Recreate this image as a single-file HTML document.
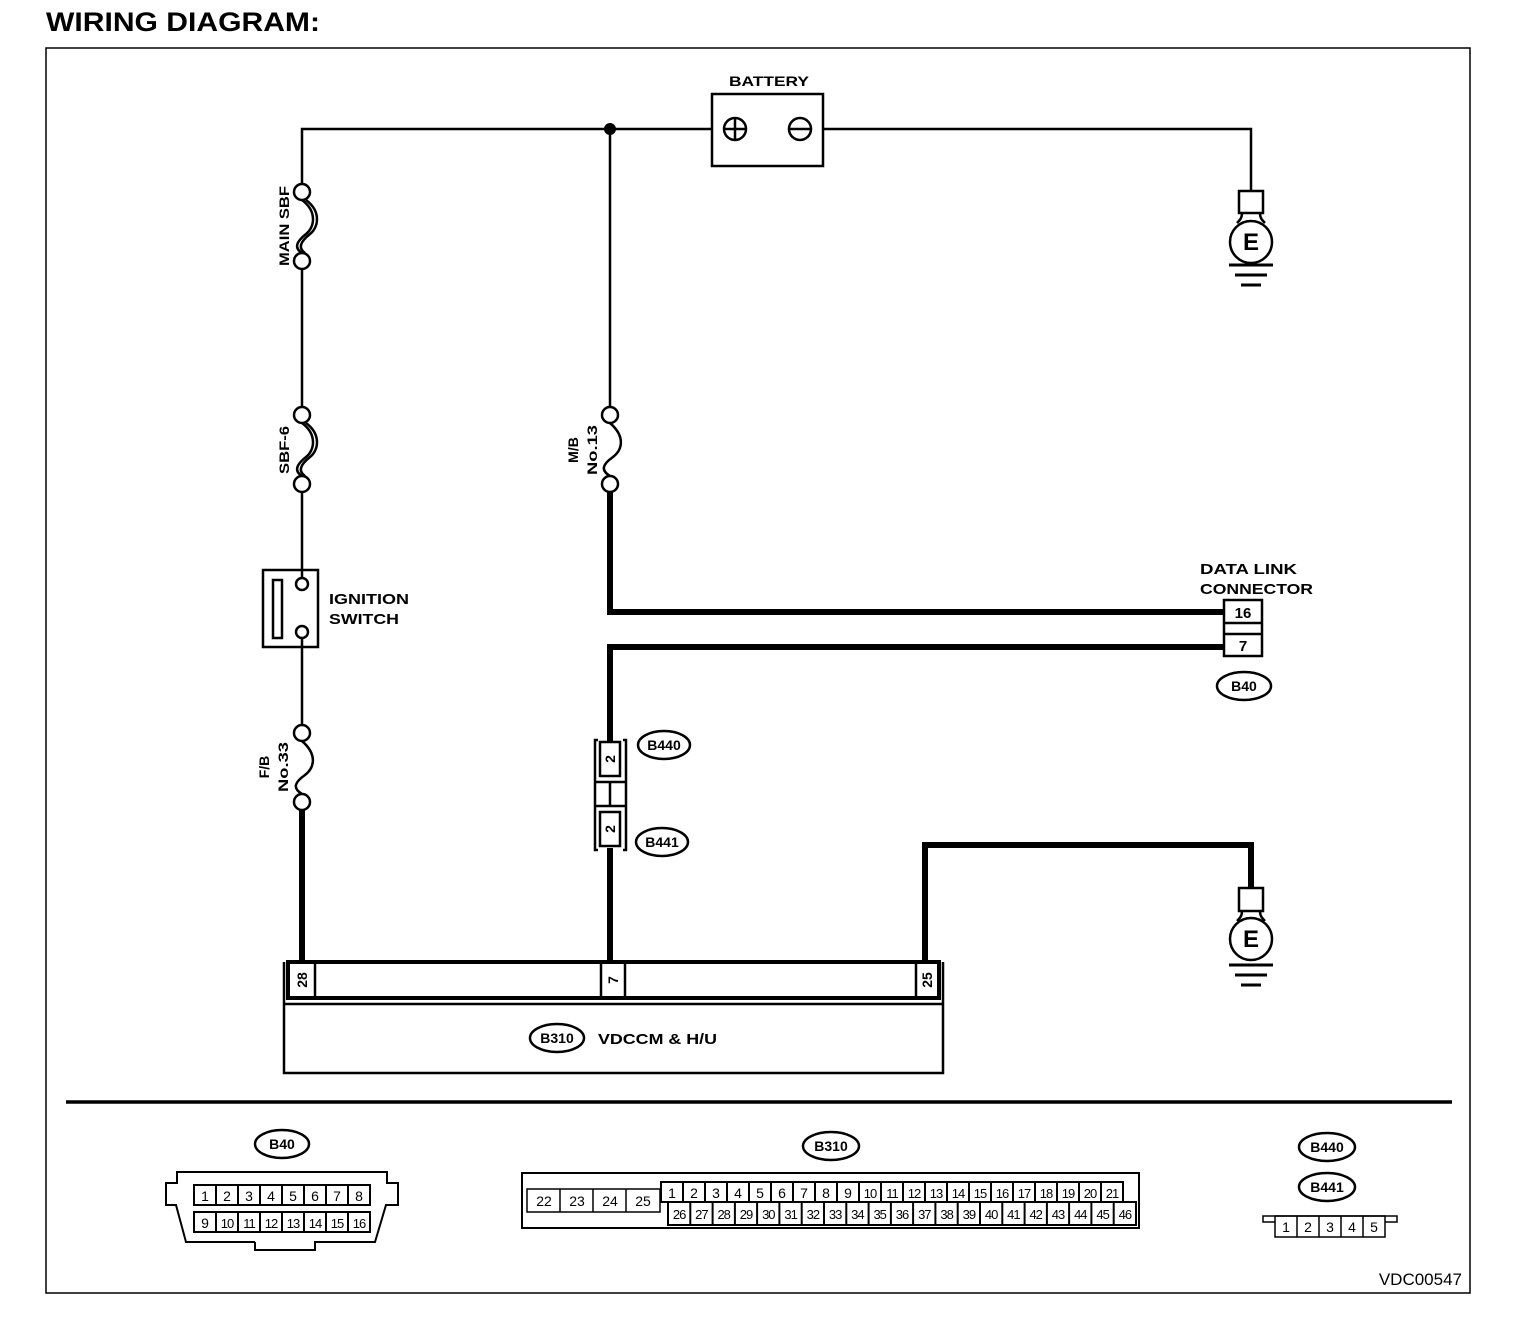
<!DOCTYPE html>
<html><head><meta charset="utf-8"><style>
html,body{margin:0;padding:0;background:#fff}
svg{display:block}
text{font-family:"Liberation Sans",Arial,sans-serif;fill:#000}
.b{font-weight:bold}
.n{font-size:13px;letter-spacing:-1px}
</style></head><body>
<svg width="1536" height="1336" viewBox="0 0 1536 1336" xmlns="http://www.w3.org/2000/svg">
<text x="46" y="31" class="b" font-size="27" textLength="274" lengthAdjust="spacingAndGlyphs">WIRING DIAGRAM:</text>
<rect x="46" y="48" width="1424" height="1245" fill="none" stroke="#000" stroke-width="1.5"/>

<g fill="none" stroke="#000" stroke-width="2.5">
<polyline points="302,184 302,129 712,129"/>
<polyline points="823,129 1251,129 1251,191"/>
<circle cx="735" cy="129" r="11"/><line x1="735" y1="118" x2="735" y2="140"/><line x1="724" y1="129" x2="746" y2="129"/>
<circle cx="800" cy="129" r="11"/><line x1="789" y1="129" x2="811" y2="129"/>
<rect x="712" y="94" width="111" height="72"/>
<circle cx="302" cy="192" r="8"/><circle cx="302" cy="261" r="8"/>
<path d="M302,200 C318,212 314,228 306,234 C296,242 294,248 302,253"/>
<path d="M306,200 C322,212 318,228 310,234 C300,242 298,248 305,253"/>
<line x1="302" y1="269" x2="302" y2="407"/>
<circle cx="302" cy="415" r="8"/><circle cx="302" cy="484" r="8"/>
<path d="M302,423 C318,435 314,451 306,457 C296,465 294,471 302,476"/>
<path d="M306,423 C322,435 318,451 310,457 C300,465 298,471 305,476"/>
<line x1="302" y1="492" x2="302" y2="578"/>
<rect x="263" y="570" width="55" height="77"/>
<rect x="273" y="580" width="9" height="58"/>
<circle cx="302" cy="584" r="6"/><circle cx="302" cy="632" r="6"/>
<line x1="302" y1="638" x2="302" y2="725"/>
<circle cx="302" cy="733" r="8"/><circle cx="302" cy="802" r="8"/>
<path d="M302,741 C318,755 314,768 305,775 C295,782 292,788 302,794"/>
<line x1="610" y1="129" x2="610" y2="407"/>
<circle cx="610" cy="415" r="8"/><circle cx="610" cy="484" r="8"/>
<path d="M610,423 C626,437 622,450 613,457 C603,464 600,470 610,476"/>
<rect x="1239" y="191" width="24" height="22"/>
<path d="M1242,213 C1242,218 1240,220 1237,223 M1260,213 C1260,218 1262,220 1265,223"/>
<circle cx="1251" cy="242" r="21"/>
<rect x="1239" y="888" width="24" height="23"/>
<path d="M1242,911 C1242,916 1240,918 1237,921 M1260,911 C1260,916 1262,918 1265,921"/>
<circle cx="1251" cy="939" r="21"/>
<polyline points="284,962 284,1073 943,1073 943,962"/>
<line x1="284" y1="1004" x2="943" y2="1004"/>
<ellipse cx="282" cy="1144" rx="27" ry="14"/>
<ellipse cx="831" cy="1146" rx="28" ry="14"/>
<ellipse cx="1327" cy="1147" rx="28" ry="14"/>
<ellipse cx="1327" cy="1187" rx="28" ry="14"/>
<ellipse cx="1244" cy="686" rx="27" ry="14"/>
<ellipse cx="664" cy="745" rx="26" ry="14"/>
<ellipse cx="662" cy="842" rx="26" ry="14"/>
<ellipse cx="557" cy="1038" rx="27" ry="14"/>
</g>
<circle cx="610" cy="129" r="6"/>
<g stroke="#000" stroke-width="3">
<line x1="1229" y1="265" x2="1273" y2="265"/><line x1="1235" y1="275" x2="1267" y2="275"/><line x1="1241" y1="285" x2="1261" y2="285"/>
<line x1="1229" y1="965" x2="1273" y2="965"/><line x1="1235" y1="975" x2="1267" y2="975"/><line x1="1241" y1="985" x2="1261" y2="985"/>
</g>
<g fill="none" stroke="#000" stroke-width="6">
<line x1="302" y1="810" x2="302" y2="962"/>
<polyline points="610,492 610,612 1224,612"/>
<polyline points="1224,647 610,647 610,742"/>
<line x1="610" y1="848" x2="610" y2="962"/>
<polyline points="925,962 925,845 1251,845 1251,888"/>
</g>
<g fill="#fff" stroke="#000" stroke-width="2.5">
<rect x="1224" y="600" width="38" height="56"/>
<line x1="1224" y1="623" x2="1262" y2="623"/><line x1="1224" y1="634" x2="1262" y2="634"/>
</g>
<text x="1200" y="574" class="b" font-size="15" textLength="97" lengthAdjust="spacingAndGlyphs">DATA LINK</text>
<text x="1200" y="594" class="b" font-size="15" textLength="113" lengthAdjust="spacingAndGlyphs">CONNECTOR</text>
<text x="1243" y="618" class="b" font-size="15" text-anchor="middle">16</text>
<text x="1243" y="651" class="b" font-size="15" text-anchor="middle">7</text>
<text x="1244" y="691" class="b" font-size="14" text-anchor="middle">B40</text>
<g fill="none" stroke="#000" stroke-width="2.5">
<polyline points="598,740 595,740 595,850 598,850"/>
<polyline points="623,740 626,740 626,850 623,850"/>
<rect x="600" y="742" width="20" height="34"/>
<rect x="600" y="812" width="20" height="34"/>
<line x1="595" y1="782" x2="626" y2="782"/><line x1="595" y1="806" x2="626" y2="806"/>
<line x1="610" y1="782" x2="610" y2="806"/>
</g>
<text transform="translate(615,759) rotate(-90)" class="b" font-size="14" text-anchor="middle">2</text>
<text transform="translate(615,829) rotate(-90)" class="b" font-size="14" text-anchor="middle">2</text>
<text x="664" y="750" class="b" font-size="14" text-anchor="middle">B440</text>
<text x="662" y="847" class="b" font-size="14" text-anchor="middle">B441</text>
<g fill="none" stroke="#000">
<rect x="288" y="962" width="651" height="36" stroke-width="4"/>
<line x1="315" y1="962" x2="315" y2="998" stroke-width="2.5"/>
<line x1="601" y1="962" x2="601" y2="998" stroke-width="2.5"/>
<line x1="625" y1="962" x2="625" y2="998" stroke-width="2.5"/>
<line x1="916" y1="962" x2="916" y2="998" stroke-width="2.5"/>
</g>
<text transform="translate(307,980) rotate(-90)" class="b" font-size="14" text-anchor="middle">28</text>
<text transform="translate(618,980) rotate(-90)" class="b" font-size="14" text-anchor="middle">7</text>
<text transform="translate(932,980) rotate(-90)" class="b" font-size="14" text-anchor="middle">25</text>
<text x="557" y="1043" class="b" font-size="14" text-anchor="middle">B310</text>
<text x="598" y="1044" class="b" font-size="15" textLength="119" lengthAdjust="spacingAndGlyphs">VDCCM &amp; H/U</text>
<text x="769" y="86" class="b" font-size="14" text-anchor="middle" textLength="80" lengthAdjust="spacingAndGlyphs">BATTERY</text>
<text transform="translate(289,226) rotate(-90)" class="b" font-size="14" text-anchor="middle" textLength="80" lengthAdjust="spacingAndGlyphs">MAIN SBF</text>
<text transform="translate(289,450) rotate(-90)" class="b" font-size="14" text-anchor="middle" textLength="48" lengthAdjust="spacingAndGlyphs">SBF-6</text>
<text transform="translate(578,450) rotate(-90)" class="b" font-size="14" text-anchor="middle">M/B</text>
<text transform="translate(597,450) rotate(-90)" class="b" font-size="14" text-anchor="middle" textLength="50" lengthAdjust="spacingAndGlyphs">No.13</text>
<text transform="translate(269,767) rotate(-90)" class="b" font-size="14" text-anchor="middle">F/B</text>
<text transform="translate(288,767) rotate(-90)" class="b" font-size="14" text-anchor="middle" textLength="50" lengthAdjust="spacingAndGlyphs">No.33</text>
<text x="329" y="604" class="b" font-size="15" textLength="80" lengthAdjust="spacingAndGlyphs">IGNITION</text>
<text x="329" y="624" class="b" font-size="15" textLength="70" lengthAdjust="spacingAndGlyphs">SWITCH</text>
<text x="1251" y="250" class="b" font-size="24" text-anchor="middle">E</text>
<text x="1251" y="947" class="b" font-size="24" text-anchor="middle">E</text>

<line x1="66" y1="1102" x2="1452" y2="1102" stroke="#000" stroke-width="3.5"/>
<text x="282" y="1149" class="b" font-size="14" text-anchor="middle">B40</text>
<text x="831" y="1151" class="b" font-size="14" text-anchor="middle">B310</text>
<text x="1327" y="1152" class="b" font-size="14" text-anchor="middle">B440</text>
<text x="1327" y="1192" class="b" font-size="14" text-anchor="middle">B441</text>

<g fill="none" stroke="#000" stroke-width="2">
<polyline points="255,1242 186,1242 176,1205 166,1205 166,1183 177,1183 177,1172 387,1172 387,1183 398,1183 398,1205 386,1205 375,1242 315,1242 315,1250 255,1250 255,1242"/>
<rect x="194" y="1185" width="176" height="20"/>
<rect x="194" y="1212" width="176" height="20"/>
<path d="M216,1185v20M238,1185v20M260,1185v20M282,1185v20M304,1185v20M326,1185v20M348,1185v20M216,1212v20M238,1212v20M260,1212v20M282,1212v20M304,1212v20M326,1212v20M348,1212v20"/>
</g>
<g font-size="14" text-anchor="middle">
<text x="205" y="1201">1</text><text x="227" y="1201">2</text><text x="249" y="1201">3</text><text x="271" y="1201">4</text><text x="293" y="1201">5</text><text x="315" y="1201">6</text><text x="337" y="1201">7</text><text x="359" y="1201">8</text>
<text x="205" y="1228">9</text>
<g class="n"><text x="227" y="1228">10</text><text x="249" y="1228">11</text><text x="271" y="1228">12</text><text x="293" y="1228">13</text><text x="315" y="1228">14</text><text x="337" y="1228">15</text><text x="359" y="1228">16</text></g>
</g>

<g fill="none" stroke="#000" stroke-width="2">
<rect x="522" y="1173" width="617" height="55"/>
<rect x="527" y="1189" width="133" height="23" stroke-width="1.5"/>
<path d="M560,1189v23M593,1189v23M626,1189v23" stroke-width="1.5"/>
<rect x="661" y="1182" width="462" height="20"/>
<path d="M683,1182v20M705,1182v20M727,1182v20M749,1182v20M771,1182v20M793,1182v20M815,1182v20M837,1182v20M859,1182v20M881,1182v20M903,1182v20M925,1182v20M947,1182v20M969,1182v20M991,1182v20M1013,1182v20M1035,1182v20M1057,1182v20M1079,1182v20M1101,1182v20"/>
<rect x="668" y="1202" width="468" height="23"/>
<path d="M690.3,1202v23M712.6,1202v23M734.9,1202v23M757.1,1202v23M779.4,1202v23M801.7,1202v23M824,1202v23M846.3,1202v23M868.6,1202v23M890.9,1202v23M913.1,1202v23M935.4,1202v23M957.7,1202v23M980,1202v23M1002.3,1202v23M1024.6,1202v23M1046.9,1202v23M1069.1,1202v23M1091.4,1202v23M1113.7,1202v23"/>
</g>
<g font-size="14" text-anchor="middle">
<text x="544" y="1206">22</text><text x="577" y="1206">23</text><text x="610" y="1206">24</text><text x="643" y="1206">25</text>
<text x="672" y="1198">1</text><text x="694" y="1198">2</text><text x="716" y="1198">3</text><text x="738" y="1198">4</text><text x="760" y="1198">5</text><text x="782" y="1198">6</text><text x="804" y="1198">7</text><text x="826" y="1198">8</text><text x="848" y="1198">9</text>
<g class="n">
<text x="870" y="1198">10</text><text x="892" y="1198">11</text><text x="914" y="1198">12</text><text x="936" y="1198">13</text><text x="958" y="1198">14</text><text x="980" y="1198">15</text><text x="1002" y="1198">16</text><text x="1024" y="1198">17</text><text x="1046" y="1198">18</text><text x="1068" y="1198">19</text><text x="1090" y="1198">20</text><text x="1112" y="1198">21</text>
<text x="679.1" y="1219">26</text><text x="701.4" y="1219">27</text><text x="723.7" y="1219">28</text><text x="746" y="1219">29</text><text x="768.3" y="1219">30</text><text x="790.6" y="1219">31</text><text x="812.9" y="1219">32</text><text x="835.1" y="1219">33</text><text x="857.4" y="1219">34</text><text x="879.7" y="1219">35</text><text x="902" y="1219">36</text><text x="924.3" y="1219">37</text><text x="946.6" y="1219">38</text><text x="968.9" y="1219">39</text><text x="991.1" y="1219">40</text><text x="1013.4" y="1219">41</text><text x="1035.7" y="1219">42</text><text x="1058" y="1219">43</text><text x="1080.3" y="1219">44</text><text x="1102.6" y="1219">45</text><text x="1124.9" y="1219">46</text>
</g>
</g>

<g fill="none" stroke="#000" stroke-width="1.5">
<polyline points="1275,1222 1263,1222 1263,1216 1397,1216 1397,1222 1385,1222"/>
<rect x="1275" y="1216" width="110" height="21"/>
<path d="M1297,1216v21M1319,1216v21M1341,1216v21M1363,1216v21"/>
</g>
<g font-size="14" text-anchor="middle">
<text x="1286" y="1232">1</text><text x="1308" y="1232">2</text><text x="1330" y="1232">3</text><text x="1352" y="1232">4</text><text x="1374" y="1232">5</text>
</g>
<text x="1462" y="1285" font-size="17" text-anchor="end">VDC00547</text>
</svg>
</body></html>
